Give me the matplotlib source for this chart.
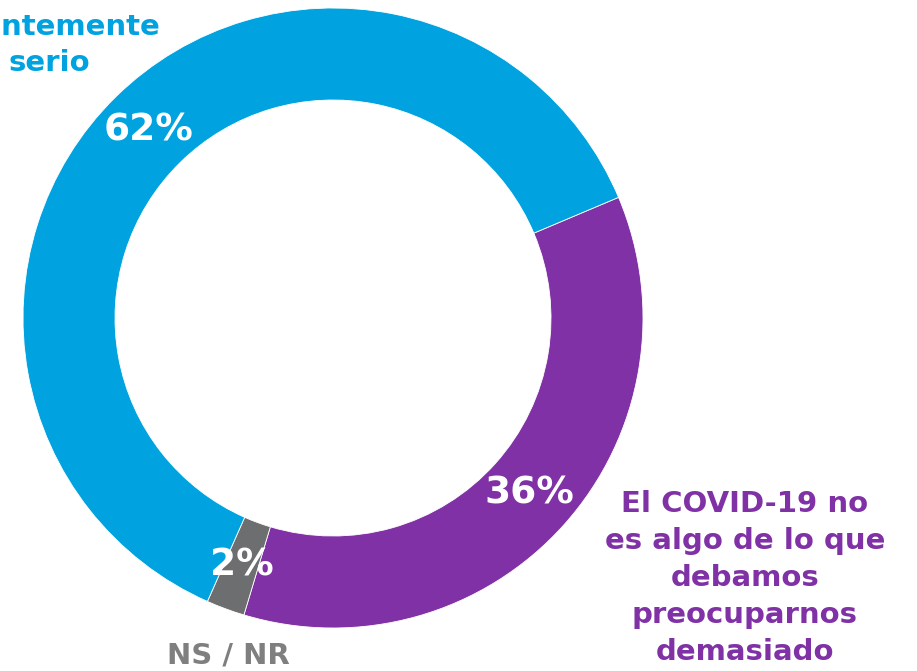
import matplotlib
matplotlib.use("Agg")
import matplotlib.pyplot as plt

# data
categories = ["El COVID-19 no es algo de lo que debamos preocuparnos demasiado",
              "NS / NR",
              "Es suficientemente serio"]
shares = [36, 2, 62]
colors = ["#7F31A5", "#6D6E70", "#00A3E0"]

plt.rcParams['font.family'] = ['DejaVu Sans']

fig = plt.figure(figsize=(9.17, 6.71), dpi=100)
ax = fig.add_axes([0, 0, 1, 1])

H = 671
cx, cy, r = 333, H - 318, 310

wedges, texts, autotexts = ax.pie(
    shares, colors=colors, startangle=22.9, counterclock=False,
    center=(cx, cy), radius=r, pctdistance=0.85,
    autopct=lambda p: "%d%%" % round(p),
    wedgeprops=dict(width=92, edgecolor="white", linewidth=0.6),
    textprops=dict(color="white", fontsize=27, fontweight="bold"))
for t in autotexts:
    t.set_va("center")
    t.set_ha("center")

ax.set_xlim(0, 917)
ax.set_ylim(0, H)
ax.set_aspect("equal")
ax.axis("off")

# outer labels
ax.text(745, H - 578, "El COVID-19 no\nes algo de lo que\ndebamos\npreocuparnos\ndemasiado",
        ha="center", va="center", color="#7F31A5", fontsize=21, fontweight="bold",
        linespacing=1.4)
ax.text(228, H - 656, "NS / NR", ha="center", va="center", color="#7F7F7F",
        fontsize=21, fontweight="bold")
# label of the blue slice runs off the left edge, as in the source
ax.text(160, H - 27, "suficientemente", ha="right", va="center", color="#00A3E0",
        fontsize=21, fontweight="bold")
ax.text(49, H - 63, "serio", ha="center", va="center", color="#00A3E0",
        fontsize=21, fontweight="bold")

fig.savefig("out.png", dpi=100)
